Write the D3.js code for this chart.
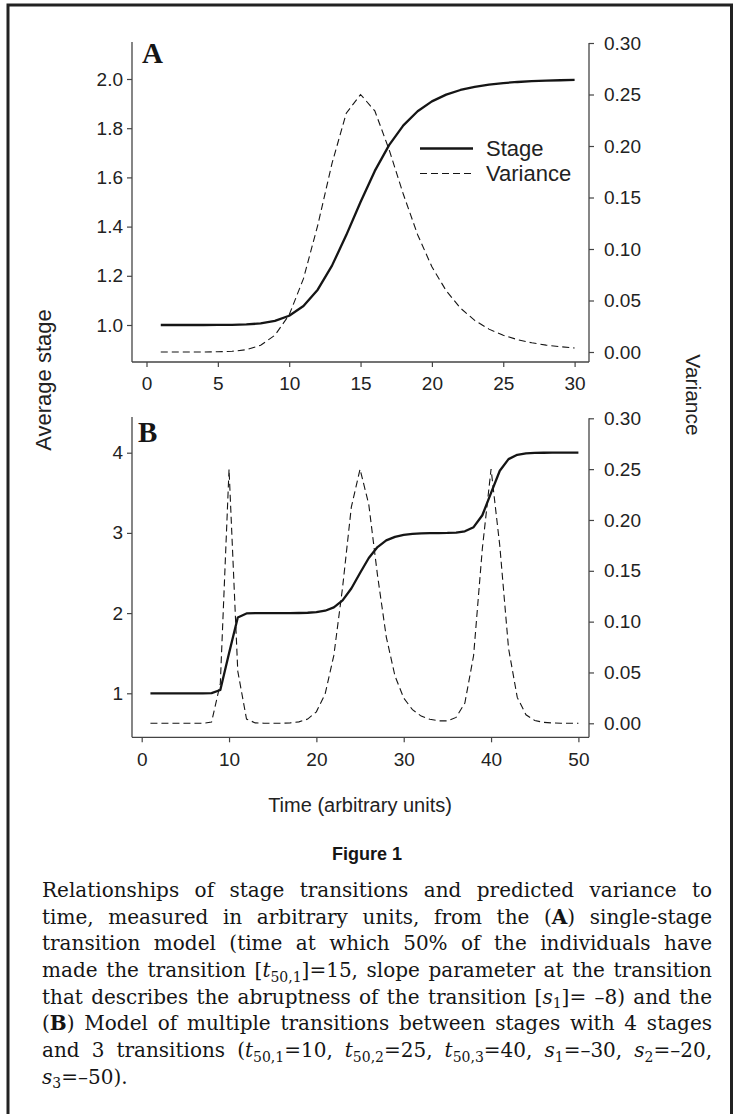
<!DOCTYPE html>
<html><head><meta charset="utf-8">
<script src="https://cdn.jsdelivr.net/npm/d3@7/dist/d3.min.js"></script>
<style>body{margin:0;background:#fff} svg{display:block}</style>
</head><body>
<svg id="fig" width="734" height="1114"></svg>
<script>
// ---------- data ----------
const timeA = [1,2,3,4,5,6,7,8,9,10,11,12,13,14,15,16,17,18,19,20,21,22,23,24,25,26,27,28,29,30];
const stageA = [1.0000,1.0000,1.0000,1.0000,1.0002,1.0007,1.0022,1.0065,1.0165,1.0376,1.0772,1.1437,1.2414,1.3654,1.5000,
  1.6263,1.7313,1.8113,1.8689,1.9090,1.9365,1.9554,1.9683,1.9773,1.9835,1.9879,1.9910,1.9933,1.9949,1.9961];
const varianceA = [0.0000,0.0000,0.0000,0.0000,0.0002,0.0007,0.0022,0.0065,0.0163,0.0361,0.0712,0.1230,0.1831,0.2319,0.2500,
  0.2341,0.1965,0.1531,0.1139,0.0827,0.0595,0.0426,0.0307,0.0222,0.0163,0.0120,0.0089,0.0067,0.0051,0.0039];

const timeB = [1,2,3,4,5,6,7,8,9,10,11,12,13,14,15,16,17,18,19,20,21,22,23,24,25,
  26,27,28,29,30,31,32,33,34,35,36,37,38,39,40,41,42,43,44,45,46,47,48,49,50];
const stageB = [1.0000,1.0000,1.0000,1.0000,1.0000,1.0000,1.0000,1.0012,1.0407,1.5000,
  1.9458,1.9958,1.9996,2.0000,2.0000,2.0001,2.0004,2.0014,2.0041,2.0114,
  2.0297,2.0720,2.1588,2.3065,2.5000,2.6866,2.8233,2.9061,2.9511,2.9746,
  2.9866,2.9929,2.9962,2.9982,3.0001,3.0045,3.0195,3.0712,3.2198,3.4999,
  3.7746,3.9198,3.9738,3.9916,3.9972,3.9991,3.9997,3.9999,4.0000,4.0000];
const varianceB = [0.0000,0.0000,0.0000,0.0000,0.0000,0.0000,0.0000,0.0012,0.0390,0.2500,
  0.0513,0.0042,0.0004,0.0001,0.0000,0.0001,0.0004,0.0014,0.0041,0.0113,
  0.0288,0.0668,0.1336,0.2126,0.2500,0.2152,0.1455,0.0851,0.0465,0.0248,
  0.0134,0.0071,0.0039,0.0024,0.0024,0.0058,0.0199,0.0666,0.1717,0.2501,
  0.1746,0.0738,0.0255,0.0084,0.0028,0.0009,0.0003,0.0001,0.0000,0.0000];

const ticksAx = [0,5,10,15,20,25,30];
const ticksAy = [1.0,1.2,1.4,1.6,1.8,2.0];
const ticksBx = [0,10,20,30,40,50];
const ticksBy = [1,2,3,4];
const ticksVar = [0,0.05,0.10,0.15,0.20,0.25,0.30];
const legendLabels = ["Stage","Variance"];

// ---------- drawing ----------
const svg = d3.select("#fig");
const INK = "#151515", AX = "#444", TXT = "#222";
const SANS = "'Liberation Sans', Arial, Helvetica, sans-serif";

// outer frame
svg.append("path").attr("d","M8,1114 V5 H731.5 V1114")
  .attr("fill","none").attr("stroke","#222").attr("stroke-width",3);

function panel(c){
  const g = svg.append("g");
  const x = d3.scaleLinear().domain(c.xDom).range(c.xRange);
  const yL = d3.scaleLinear().domain(c.yDom).range(c.yRange);
  const yR = d3.scaleLinear().domain([0,0.30]).range(c.vRange);

  g.append("line").attr("x1",c.left).attr("x2",c.left).attr("y1",c.top).attr("y2",c.bottom)
    .attr("stroke",AX).attr("stroke-width",1.3);
  g.append("line").attr("x1",c.left).attr("x2",c.right).attr("y1",c.bottom).attr("y2",c.bottom)
    .attr("stroke",AX).attr("stroke-width",1.3);
  g.append("line").attr("x1",c.right).attr("x2",c.right).attr("y1",yR(0.30)).attr("y2",c.bottom)
    .attr("stroke",AX).attr("stroke-width",1.3);

  const ax1 = g.append("g").attr("transform",`translate(${c.left},0)`)
    .call(d3.axisLeft(yL).tickValues(c.yTicks).tickSize(5).tickPadding(4).tickFormat(c.yFmt));
  const ax2 = g.append("g").attr("transform",`translate(${c.right},0)`)
    .call(d3.axisRight(yR).tickValues(ticksVar).tickSize(5).tickPadding(10).tickFormat(d3.format(".2f")));
  const ax3 = g.append("g").attr("transform",`translate(0,${c.bottom})`)
    .call(d3.axisBottom(x).tickValues(c.xTicks).tickSize(5).tickPadding(10).tickFormat(d3.format("d")));
  [ax1,ax2,ax3].forEach(a=>{
    a.select(".domain").remove();
    a.selectAll(".tick line").attr("stroke",AX).attr("stroke-width",1.2);
    a.selectAll(".tick text").attr("fill",TXT).style("font-family",SANS).style("font-size","19px");
  });

  const lineS = d3.line().x((d,i)=>x(c.t[i])).y(d=>yL(d));
  const lineV = d3.line().x((d,i)=>x(c.t[i])).y(d=>yR(d));
  g.append("path").datum(c.v).attr("d",lineV).attr("fill","none")
    .attr("stroke",INK).attr("stroke-width",1.1).attr("stroke-dasharray","7,4");
  g.append("path").datum(c.s).attr("d",lineS).attr("fill","none")
    .attr("stroke",INK).attr("stroke-width",2.3).attr("stroke-linejoin","round");

  g.append("text").attr("x",c.labX).attr("y",c.labY).text(c.label)
    .style("font-family","'Liberation Serif','Times New Roman',serif").style("font-weight","bold")
    .style("font-size","29px").attr("fill",INK);
  return {x,yL,yR};
}

panel({xDom:[0,30], xRange:[146.5,574.6], yDom:[1,2], yRange:[325,79], vRange:[352,43],
  left:132, right:589, top:42, bottom:362, t:timeA, s:stageA, v:varianceA,
  xTicks:ticksAx, yTicks:ticksAy, yFmt:d3.format(".1f"), label:"A", labX:142, labY:63});
panel({xDom:[0,50], xRange:[141.7,578.4], yDom:[1,4], yRange:[693.3,452.7], vRange:[723.3,418.3],
  left:132, right:589, top:417, bottom:737.3, t:timeB, s:stageB, v:varianceB,
  xTicks:ticksBx, yTicks:ticksBy, yFmt:d3.format("d"), label:"B", labX:138, labY:442});

// legend (panel A)
const leg = svg.append("g");
[0,1].forEach(i=>{
  const y = i===0 ? 148.5 : 173.5;
  leg.append("line").attr("x1",420).attr("x2",473).attr("y1",y).attr("y2",y)
    .attr("stroke",INK).attr("stroke-width",i===0?2.3:1.1).attr("stroke-dasharray",i===0?null:"7,4");
  leg.append("text").attr("x",486).attr("y",y+7.5).text(legendLabels[i])
    .style("font-family",SANS).style("font-size","22px").attr("fill",TXT);
});

// axis titles
svg.append("text").attr("transform","translate(51,380) rotate(-90)").attr("text-anchor","middle")
  .text("Average stage").style("font-family",SANS).style("font-size","22px").attr("fill",TXT);
svg.append("text").attr("transform","translate(686,395) rotate(90)").attr("text-anchor","middle")
  .text("Variance").style("font-family",SANS).style("font-size","21px").attr("fill",TXT);
svg.append("text").attr("x",360).attr("y",812).attr("text-anchor","middle")
  .text("Time (arbitrary units)").style("font-family",SANS).style("font-size","20px").attr("fill",TXT);

svg.append("text").attr("x",367).attr("y",860).attr("text-anchor","middle")
  .text("Figure 1").style("font-family",SANS).style("font-weight","bold").style("font-size","18px").attr("fill",INK);

// caption
const cap = [
  [["Relationships of stage transitions and predicted variance to"]],
  [["time, measured in arbitrary units, from the ("],["A","b"],[") single-stage"]],
  [["transition model (time at which 50% of the individuals have"]],
  [["made the transition ["],["t","i"],["50,1","sub"],["]=15, slope parameter at the transition"]],
  [["that describes the abruptness of the transition ["],["s","i"],["1","sub"],["]= \u20138) and the"]],
  [["("],["B","b"],[") Model of multiple transitions between stages with 4 stages"]],
  [["and 3 transitions ("],["t","i"],["50,1","sub"],["=10, "],["t","i"],["50,2","sub"],["=25, "],["t","i"],["50,3","sub"],
   ["=40, "],["s","i"],["1","sub"],["=\u201330, "],["s","i"],["2","sub"],["=\u201320,"]],
  [["s","i"],["3","sub"],["=\u201350)."]]
];
const capX0 = 42, capX1 = 712, capY0 = 897, capDY = 26.67, CAPFS = 20;
const scales = [];
cap.forEach((segs,li)=>{
  const y = capY0+li*capDY;
  const t = svg.append("text").attr("x",0).attr("y",0)
    .attr("transform",`translate(${capX0},${y})`)
    .style("font-family","'DejaVu Serif',serif").style("font-size",CAPFS+"px").attr("fill",INK);
  let shifted = false, full = "";
  segs.forEach(([str,st])=>{
    const sp = t.append("tspan").text(str);
    full += str;
    if(st==="b") sp.style("font-weight","bold");
    if(st==="i") sp.style("font-style","italic");
    if(st==="sub"){ sp.attr("dy",4.5).style("font-size","14px"); shifted = true; }
    else if(shifted){ sp.attr("dy",-4.5); shifted = false; }
  });
  if(li < cap.length-1){
    const target = capX1-capX0;
    const w = t.node().getComputedTextLength();
    if(w > target){
      const k = target/w;
      scales.push(k);
      t.attr("transform",`translate(${capX0},${y}) scale(${k},1)`);
    } else {
      const n = (full.match(/ /g)||[]).length;
      scales.push(1);
      if(n>0) t.style("word-spacing", ((target-w)/n)+"px");
    }
  } else {
    const k = d3.mean(scales);
    t.attr("transform",`translate(${capX0},${y}) scale(${k},1)`);
  }
});
</script>
</body></html>
